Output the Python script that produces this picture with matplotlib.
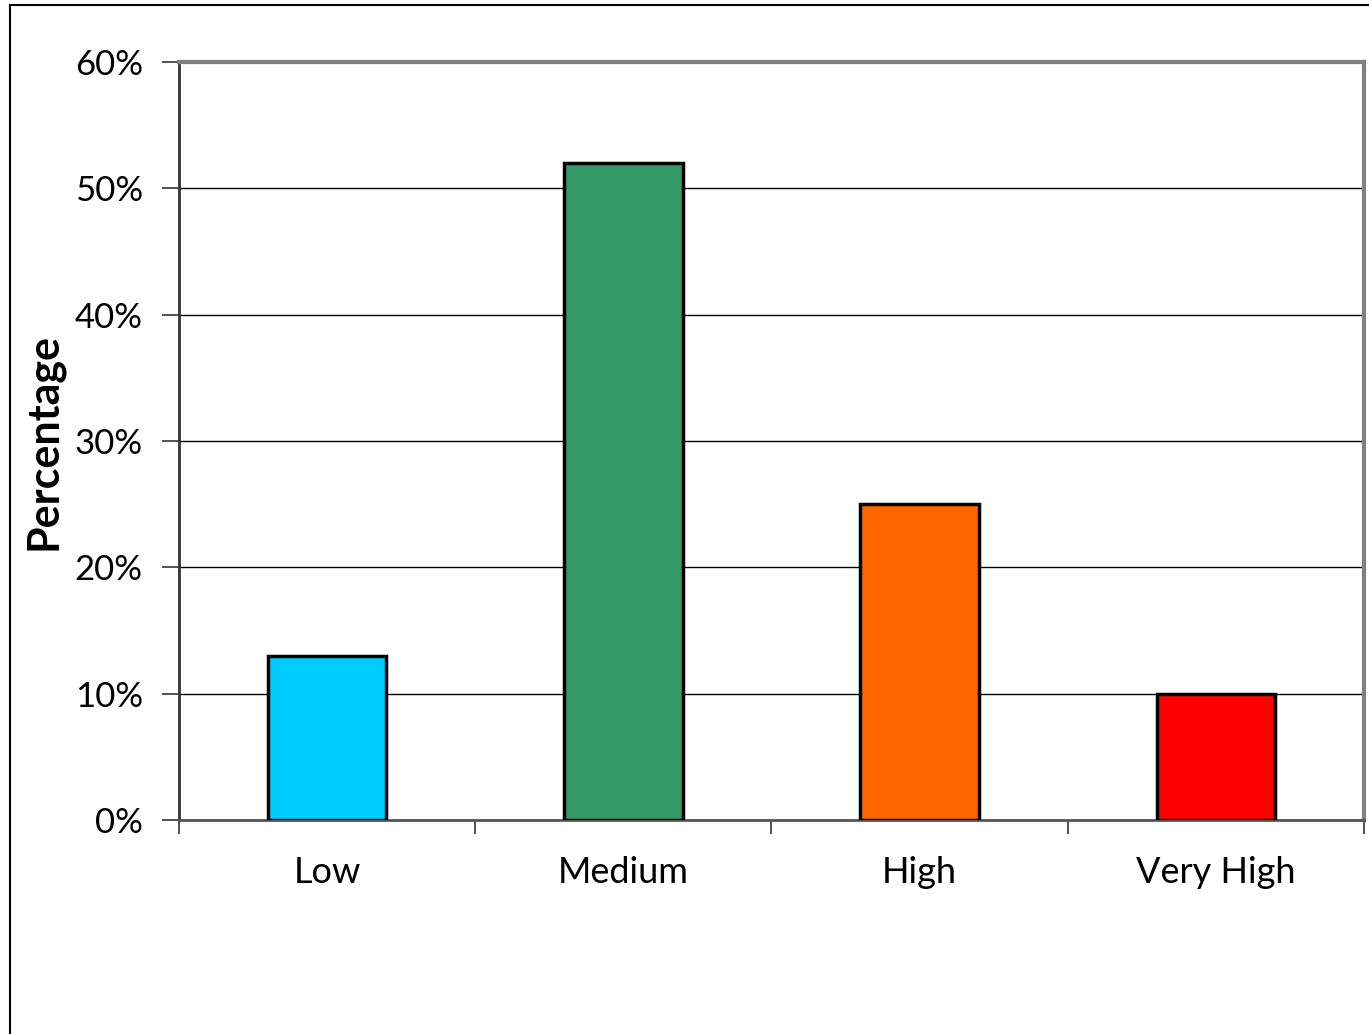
import matplotlib
matplotlib.use("Agg")
import matplotlib.pyplot as plt
from matplotlib.lines import Line2D
from matplotlib.ticker import FuncFormatter, MultipleLocator

categories = ["Low", "Medium", "High", "Very High"]
percentages = [13, 52, 25, 10]
bar_colors = ["#00CCFF", "#339966", "#FF6600", "#FF0000"]
y_label = "Percentage"

plt.rcParams["font.family"] = ["Lato", "DejaVu Sans"]

fig = plt.figure(figsize=(13.69, 10.34), dpi=100)
fig.patch.set_facecolor("white")

# frame around the chart (left and top edges visible)
fig.add_artist(Line2D([0.0075, 0.0075], [0.0, 0.995], transform=fig.transFigure,
                      color="black", lw=1.5))
fig.add_artist(Line2D([0.0075, 1.0], [0.995, 0.995], transform=fig.transFigure,
                      color="black", lw=1.5))

ax = fig.add_axes([0.1307, 0.2070, 0.8656, 0.7330])
x = range(len(categories))
ax.bar(x, percentages, width=0.4, color=bar_colors, edgecolor="black",
       linewidth=2.5, zorder=3)

ax.set_xlim(-0.5, len(categories) - 0.5)
ax.set_ylim(0, 60)
ax.yaxis.set_major_locator(MultipleLocator(10))
ax.yaxis.set_major_formatter(FuncFormatter(lambda v, _: f"{v:.0f}%"))
ax.grid(axis="y", color="black", linewidth=1.0, zorder=0)
ax.set_axisbelow(True)

ax.set_xticks(list(x))
ax.set_xticklabels(categories, fontsize=26)
ax.set_xticks([i - 0.5 for i in range(len(categories) + 1)], minor=True)
ax.tick_params(axis="x", which="major", length=0, pad=26)
ax.tick_params(axis="x", which="minor", length=10, width=1.2, direction="out",
               color="#333333")
ax.tick_params(axis="y", labelsize=25, length=12, width=1.2, direction="out",
               pad=14, color="#333333")

ax.set_ylabel(y_label, fontsize=31, fontweight="bold", labelpad=8)

for side in ("top", "right"):
    ax.spines[side].set_color("#808080")
    ax.spines[side].set_linewidth(3)
ax.spines["left"].set_color("#333333")
ax.spines["left"].set_linewidth(2)
ax.spines["bottom"].set_color("#555555")
ax.spines["bottom"].set_linewidth(2)

fig.savefig("out.png", dpi=100, facecolor="white")
